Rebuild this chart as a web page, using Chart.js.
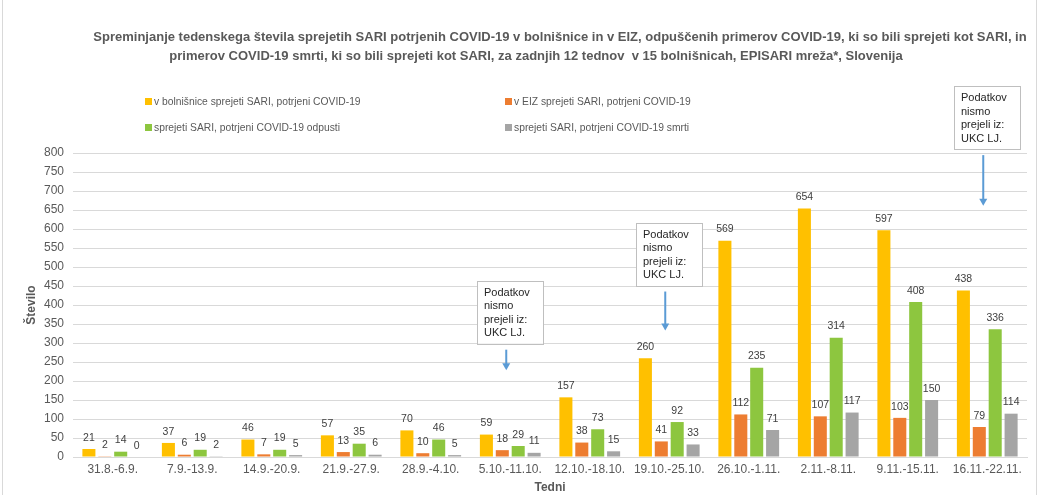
<!DOCTYPE html>
<html>
<head>
<meta charset="utf-8">
<script src="https://cdn.jsdelivr.net/npm/chart.js@4.4.0/dist/chart.umd.min.js"></script>
<style>
  html, body { margin: 0; padding: 0; background: #fff; }
  #wrap { position: relative; width: 1039px; height: 495px; }
</style>
</head>
<body>
<div id="wrap"><canvas id="c" width="1039" height="495"></canvas></div>
<script>
// weeks and weekly counts
const weeks = ["31.8.-6.9.", "7.9.-13.9.", "14.9.-20.9.", "21.9.-27.9.", "28.9.-4.10.", "5.10.-11.10.",
    "12.10.-18.10.", "19.10.-25.10.", "26.10.-1.11.", "2.11.-8.11.", "9.11.-15.11.", "16.11.-22.11."];
const hospitalAdmitted = [21, 37, 46, 57, 70, 59, 157, 260, 569, 654, 597, 438];
const icuAdmitted = [2, 6, 7, 13, 10, 18, 38, 41, 112, 107, 103, 79];
const discharged = [14, 19, 19, 35, 46, 29, 73, 92, 235, 314, 408, 336];
const deaths = [0, 2, 5, 6, 5, 11, 15, 33, 71, 117, 150, 114];
const seriesNames = [
    "v bolnišnice sprejeti SARI, potrjeni COVID-19",
    "v EIZ sprejeti SARI, potrjeni COVID-19",
    "sprejeti SARI, potrjeni COVID-19 odpusti",
    "sprejeti SARI, potrjeni COVID-19 smrti"
];
const seriesColors = ["#FFC000", "#ED7D31", "#8DC63F", "#A5A5A5"];
const yTicks = [0, 50, 100, 150, 200, 250, 300, 350, 400, 450, 500, 550, 600, 650, 700, 750, 800];
const titleLines = [
    "Spreminjanje tedenskega števila sprejetih SARI potrjenih COVID-19 v bolnišnice in v EIZ, odpuščenih primerov COVID-19, ki so bili sprejeti kot SARI, in",
    "primerov COVID-19 smrti, ki so bili sprejeti kot SARI, za zadnjih 12 tednov  v 15 bolnišnicah, EPISARI mreža*, Slovenija"
];

const FONT = "'Liberation Sans', Arial, sans-serif";
const TEXT = "#595959";

// "no data from UKC LJ." notes: week index, box top value, arrow tip value
const NOTE_LINES = ["Podatkov", "nismo", "prejeli iz:", "UKC LJ."];
const notes = [
    { week: 5, boxTop: 464, arrowEnd: 228 },
    { week: 7, boxTop: 617, arrowEnd: 333 },
    { week: 11, boxTop: 976, arrowEnd: 661 }
];

// Excel centres each title line on its own, so draw them one by one
const titleBlock = {
    id: "titleBlock",
    afterDraw(chart) {
        const ctx = chart.ctx;
        const centers = [560, 536];
        ctx.save();
        ctx.font = "bold 13px " + FONT;
        ctx.fillStyle = TEXT;
        ctx.textAlign = "center";
        ctx.textBaseline = "middle";
        titleLines.forEach((line, i) => {
            ctx.fillText(line, centers[i], 37 + i * 19);
        });
        ctx.restore();
    }
};

const valueLabels = {
    id: "valueLabels",
    afterDatasetsDraw(chart) {
        const ctx = chart.ctx;
        ctx.save();
        ctx.font = "10.5px " + FONT;
        ctx.fillStyle = "#404040";
        ctx.textAlign = "center";
        ctx.textBaseline = "bottom";
        chart.data.datasets.forEach((ds, i) => {
            chart.getDatasetMeta(i).data.forEach((bar, j) => {
                ctx.fillText(ds.data[j], bar.x, bar.y - 6);
            });
        });
        ctx.restore();
    }
};

const twoColLegend = {
    id: "twoColLegend",
    afterDraw(chart) {
        const ctx = chart.ctx;
        const cols = [145, 505];
        const rows = [102, 128];
        ctx.save();
        ctx.font = "10.3px " + FONT;
        ctx.textBaseline = "middle";
        chart.data.datasets.forEach((ds, i) => {
            const x = cols[i % 2];
            const y = rows[Math.floor(i / 2)];
            ctx.fillStyle = ds.backgroundColor;
            ctx.fillRect(x, y - 4, 7, 7);
            ctx.fillStyle = TEXT;
            ctx.textAlign = "left";
            ctx.fillText(ds.label, x + 9, y);
        });
        ctx.restore();
    }
};

const noteBoxes = {
    id: "noteBoxes",
    afterDraw(chart) {
        const ctx = chart.ctx;
        const xs = chart.scales.x;
        const ys = chart.scales.y;
        ctx.save();
        notes.forEach((n) => {
            const cx = xs.getPixelForValue(n.week) - 4;
            const top = ys.getPixelForValue(n.boxTop);
            const w = 66, h = 63;
            const left = Math.round(cx - w / 2 + 4);
            ctx.fillStyle = "#fff";
            ctx.fillRect(left, top, w, h);
            ctx.strokeStyle = "#BFBFBF";
            ctx.lineWidth = 1;
            ctx.strokeRect(left + 0.5, Math.round(top) + 0.5, w, h);
            ctx.fillStyle = "#262626";
            ctx.font = "11px " + FONT;
            ctx.textAlign = "left";
            ctx.textBaseline = "middle";
            NOTE_LINES.forEach((line, k) => {
                ctx.fillText(line, left + 7, top + 12 + k * 13.5);
            });
            // arrow
            const tip = ys.getPixelForValue(n.arrowEnd);
            const start = top + h + 6;
            ctx.strokeStyle = "#5B9BD5";
            ctx.fillStyle = "#5B9BD5";
            ctx.lineWidth = 2;
            ctx.beginPath();
            ctx.moveTo(cx, start);
            ctx.lineTo(cx, tip - 6);
            ctx.stroke();
            ctx.beginPath();
            ctx.moveTo(cx - 4, tip - 7);
            ctx.lineTo(cx + 4, tip - 7);
            ctx.lineTo(cx, tip);
            ctx.closePath();
            ctx.fill();
        });
        ctx.restore();
    }
};

const frame = {
    id: "frame",
    beforeDraw(chart) {
        const ctx = chart.ctx;
        ctx.save();
        ctx.fillStyle = "#fff";
        ctx.fillRect(0, 0, chart.width, chart.height);
        ctx.strokeStyle = "#D9D9D9";
        ctx.lineWidth = 1;
        ctx.strokeRect(2.5, -1, chart.width - 5, chart.height + 2);
        ctx.restore();
    }
};

const datasets = [hospitalAdmitted, icuAdmitted, discharged, deaths].map((d, i) => ({
    label: seriesNames[i],
    data: d,
    backgroundColor: seriesColors[i],
    categoryPercentage: 0.8,
    barPercentage: 0.82
}));

new Chart(document.getElementById("c"), {
    type: "bar",
    data: { labels: weeks, datasets },
    options: {
        responsive: false,
        animation: false,
        layout: { padding: { left: 24, right: 12, top: 153, bottom: 0 } },
        plugins: {
            legend: { display: false },
            tooltip: { enabled: false },
            title: { display: false }
        },
        scales: {
            x: {
                grid: { display: false, drawTicks: false },
                border: { color: "#D9D9D9" },
                ticks: { color: TEXT, font: { family: FONT, size: 12 }, padding: 5, maxRotation: 0, autoSkip: false },
                title: { display: true, text: "Tedni", color: TEXT, font: { family: FONT, size: 12, weight: "bold" }, padding: { top: 2, bottom: 0 } },
                afterFit: (s) => { s.height = 38; }
            },
            y: {
                min: 0,
                max: 800,
                afterBuildTicks: (s) => { s.ticks = yTicks.map((v) => ({ value: v })); },
                grid: { color: "#D9D9D9", drawTicks: false },
                border: { display: false },
                ticks: { color: TEXT, font: { family: FONT, size: 12 }, padding: 9 },
                title: { display: true, text: "Število", color: TEXT, font: { family: FONT, size: 12, weight: "bold" }, padding: { top: 0, bottom: 2 } },
                afterFit: (s) => { s.width = 49; }
            }
        }
    },
    plugins: [frame, titleBlock, valueLabels, twoColLegend, noteBoxes]
});
</script>
</body>
</html>
